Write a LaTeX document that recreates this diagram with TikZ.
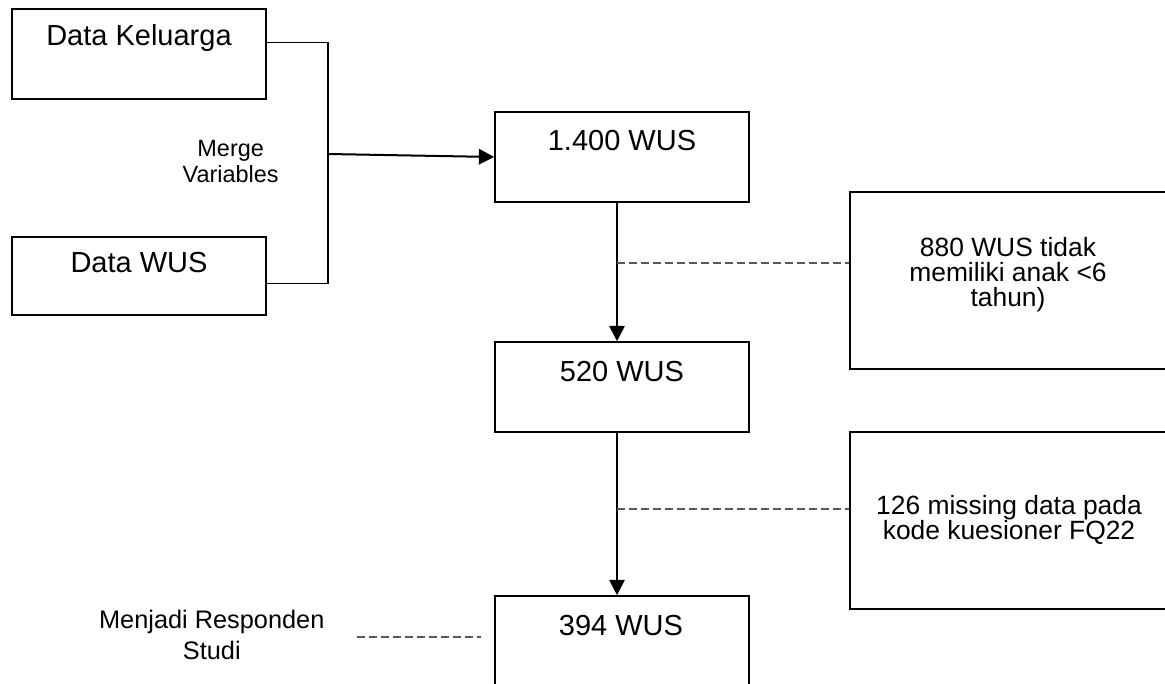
\documentclass[tikz,border=0pt]{standalone}
\usepackage{fontspec}
\setmainfont{Liberation Sans}
\usetikzlibrary{arrows.meta}
\begin{document}
\begin{tikzpicture}[x=0.75pt,y=-0.75pt,
  box/.style={draw=black, line width=1.2pt, inner sep=0pt, minimum width=190.5pt},
  sidebox/.style={draw=black, line width=1.2pt, inner sep=0pt, minimum width=247.5pt, minimum height=132.75pt},
  bigtxt/.style={font=\fontsize{21.75pt}{26pt}\selectfont, anchor=base, inner sep=0pt},
  midtxt/.style={font=\fontsize{19.8pt}{18.75pt}\selectfont, align=center, anchor=base, inner sep=0pt},
  smalltxt/.style={font=\fontsize{17.6pt}{19.5pt}\selectfont, align=center, anchor=base, inner sep=0pt},
  restxt/.style={font=\fontsize{19pt}{23.25pt}\selectfont, align=center, anchor=base, inner sep=0pt},
  thin/.style={draw=black, line width=0.8pt},
  flow/.style={draw=black, line width=1.5pt, -{Triangle[length=11.5pt, width=11.5pt]}},
  dashline/.style={draw=black!65, line width=0.8pt, dash pattern=on 6pt off 3pt}
]
\useasboundingbox (0,0) rectangle (1165,684);
\fill[white] (0,0) rectangle (1165,684);

% boxes
\node[box, minimum height=67.5pt] (kel) at (139,54) {};
\node[box, minimum height=58.5pt] (wus) at (139,276) {};
\node[box, minimum height=67.5pt] (b1400) at (622,157) {};
\node[box, minimum height=67.5pt] (b520) at (622,387) {};
\node[box, minimum height=78pt] (b394) at (622,648) {};
\node[sidebox] (b880) at (1015,280.5) {};
\node[sidebox] (b126) at (1015,520.5) {};

% texts (multi-line nodes are placed by the baseline of their last line)
\node[bigtxt] (tkel) at (139,45.7) {Data Keluarga};
\node[bigtxt] (twus) at (139,273) {Data WUS};
\node[bigtxt] (t1400) at (622,150.7) {1.400 WUS};
\node[bigtxt] (t520) at (622,381.7) {520 WUS};
\node[bigtxt] (t394) at (621,635) {394 WUS};
\node[midtxt] (t880) at (1008,306.7) {880 WUS tidak\\memiliki anak <6\\tahun)};
\node[midtxt] (t126) at (1009,539) {126 missing data pada\\kode kuesioner FQ22};
\node[smalltxt] (tmerge) at (230.7,182.7) {Merge\\Variables};
\node[restxt] (tres) at (211.8,659.3) {Menjadi Responden\\Studi};

% merge bracket
\coordinate (mj) at (328,154);
\draw[thin] (kel.east |- 0,42.7) -| (mj) |- (wus.east |- 0,283.7);
\draw[flow] (mj) -- (b1400.west);

% vertical flow
\coordinate (d1) at (617,263);
\coordinate (d2) at (617,509);
\draw[flow] (b1400.south -| 617,0) -- (b520.north -| 617,0);
\draw[flow] (b520.south -| 617,0) -- (b394.north -| 617,0);
\draw[dashline] (d1) -- (b880.west |- d1);
\draw[dashline] (d2) -- (b126.west |- d2);

% responden dashed
\coordinate (r1) at (357,637);
\draw[dashline] (r1) -- ([xshift=-9.75pt]b394.west |- r1);
\end{tikzpicture}
\end{document}
